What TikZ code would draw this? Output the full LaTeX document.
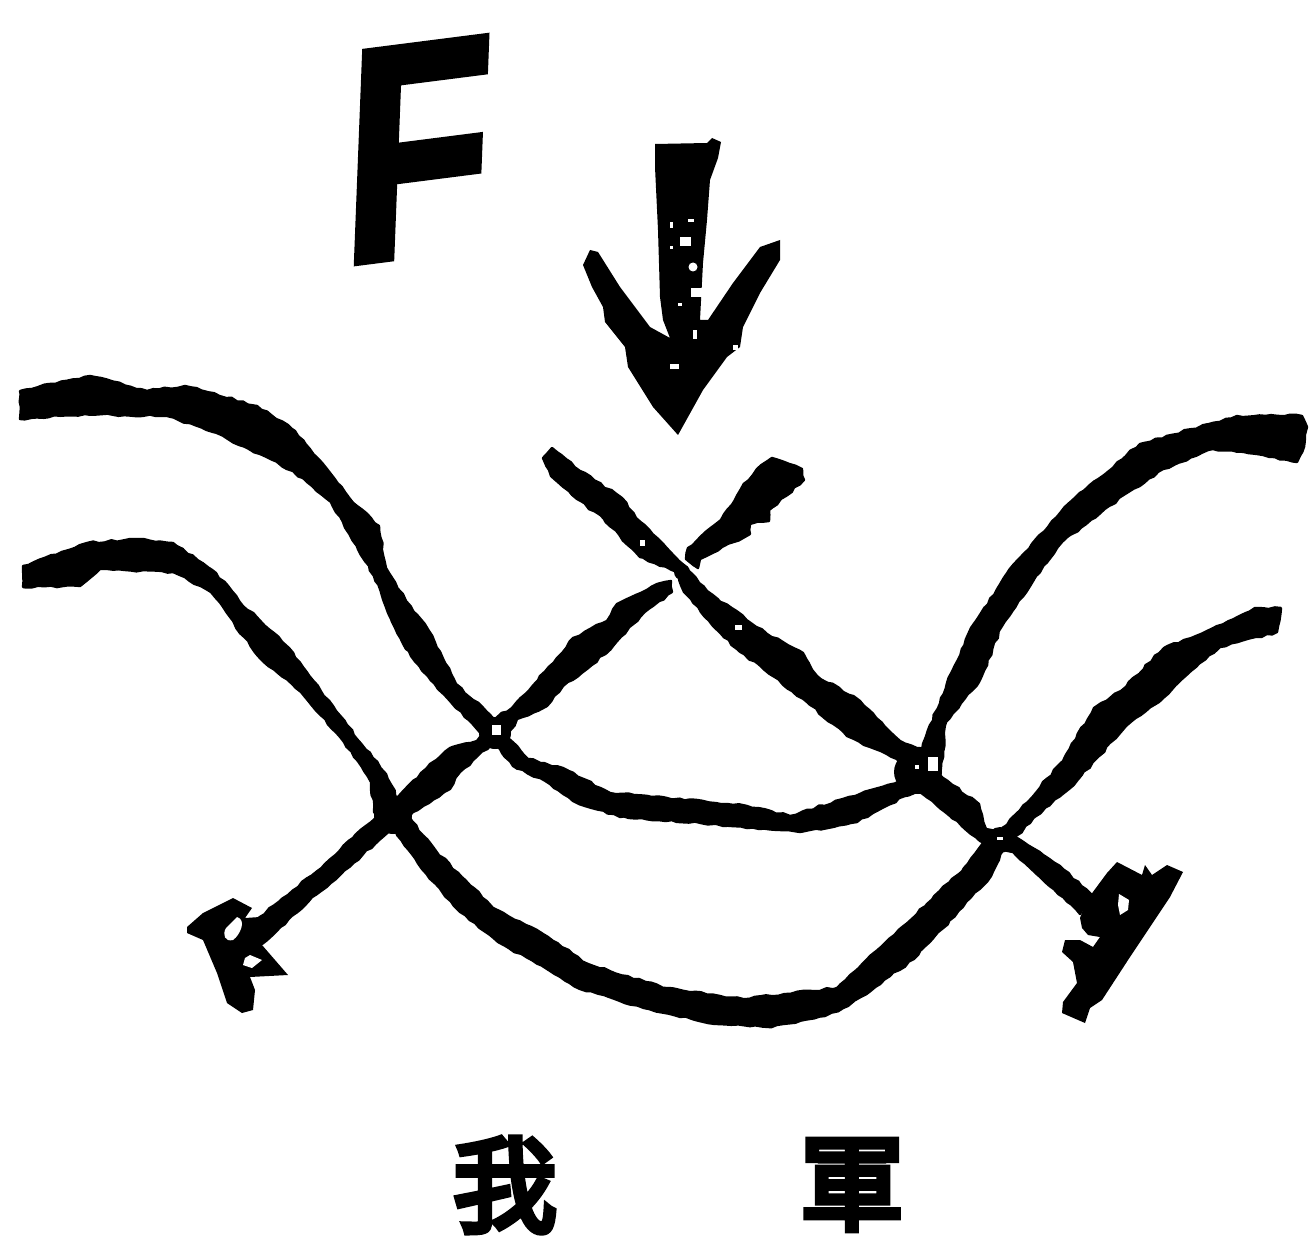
\documentclass[tikz,border=0pt]{standalone}
\usepackage{fontspec}
\setmainfont{Liberation Sans}
\newfontfamily\cjk[FakeBold=6]{Noto Sans CJK TC}
\newfontfamily\heavyF[UprightFont=* Bold,FakeBold=2.5]{Liberation Sans}
\usetikzlibrary{decorations.pathmorphing}
\pgfmathsetseed{7}
\begin{document}
\begin{tikzpicture}[x=1pt,y=-1pt,
  ink/.style={fill=black,draw=none},
  rough/.style={fill=black,draw=black,line width=2.4pt,line join=round,decorate,decoration={random steps,segment length=6pt,amplitude=1.1pt}},
  hole/.style={fill=white,draw=none},
  cjklabel/.style={font=\cjk\fontsize{104}{104}\selectfont,inner sep=0pt,text=black}]
\useasboundingbox (0,0) rectangle (1315,1238);
\fill[white] (0,0) rectangle (1315,1238);
% upper river
\path[rough] (20,391) -- (90,376) -- (147,391) -- (185,386) -- (257,406) -- (295,431) -- (327,469) -- (357,506) -- (379,526) -- (386,568) -- (406,601) -- (429,631) -- (456,684) -- (486,711) -- (508,738) -- (528,759) -- (563,768) -- (610,793) -- (667,798) -- (747,806) -- (790,816) -- (843,799) -- (900,781) -- (925,771) -- (925,789) -- (905,796) -- (857,822) -- (800,832) -- (713,824) -- (620,817) -- (573,801) -- (550,784) -- (513,766) -- (500,749) -- (477,729) -- (438,689) -- (406,649) -- (391,619) -- (374,576) -- (348,532) -- (331,502) -- (293,471) -- (260,454) -- (213,432) -- (167,416) -- (85,414) -- (20,419) -- cycle;
% lower river
\path[rough] (23,566) -- (87,543) -- (137,539) -- (173,543) -- (216,573) -- (239,601) -- (289,648) -- (336,711) -- (386,774) -- (399,801) -- (412,821) -- (436,851) -- (493,908) -- (543,934) -- (588,964) -- (666,988) -- (743,999) -- (837,988) -- (927,904) -- (964,868) -- (990,836) -- (1004,849) -- (991,876) -- (942,929) -- (914,959) -- (848,1006) -- (825,1016) -- (768,1027) -- (715,1024) -- (649,1009) -- (580,989) -- (547,969) -- (498,942) -- (454,906) -- (422,869) -- (396,832) -- (374,812) -- (371,782) -- (344,742) -- (301,692) -- (258,656) -- (211,592) -- (173,572) -- (100,569) -- (80,586) -- (23,587) -- cycle;
% right upper bank
\path[rough] (1307,427) -- (1302,416) -- (1237,416) -- (1140,444) -- (1068,504) -- (1014,564) -- (971,628) -- (941,698) -- (916,765) -- (941,769) -- (946,722) -- (979,682) -- (1002,626) -- (1036,576) -- (1062,542) -- (1109,506) -- (1163,469) -- (1213,449) -- (1257,454) -- (1297,462) -- (1304,447) -- cycle;
% right lower bank
\path[rough] (1281,608) -- (1255,608) -- (1207,631) -- (1164,648) -- (1121,691) -- (1094,708) -- (1063,761) -- (1001,831) -- (1005,849) -- (1036,816) -- (1069,789) -- (1099,756) -- (1126,726) -- (1159,702) -- (1182,679) -- (1220,647) -- (1277,632) -- cycle;
% long diagonal
\path[rough] (552,448) -- (580,471) -- (622,498) -- (636,518) -- (679,561) -- (707,591) -- (767,634) -- (803,653) -- (817,676) -- (860,701) -- (900,741) -- (920,748) -- (943,778) -- (979,804) -- (986,829) -- (1013,836) -- (1060,866) -- (1093,896) -- (1080,914) -- (1025,863) -- (1013,852) -- (980,841) -- (950,816) -- (920,792) -- (897,759) -- (847,736) -- (807,702) -- (737,649) -- (713,626) -- (684,592) -- (677,572) -- (640,557) -- (604,519) -- (577,499) -- (551,476) -- (543,458) -- cycle;
% short upper stroke
\path[rough] (772,458) -- (802,469) -- (804,480) -- (769,510) -- (769,521) -- (750,524) -- (750,534) -- (700,559) -- (698,568) -- (686,559) -- (688,548) -- (721,520) -- (741,489) -- (757,469) -- cycle;
% long anti-diagonal
\path[rough] (671,581) -- (657,584) -- (617,604) -- (607,621) -- (573,638) -- (557,658) -- (512,708) -- (490,721) -- (477,741) -- (450,748) -- (430,764) -- (397,798) -- (353,838) -- (325,864) -- (256,920) -- (262,944) -- (308,902) -- (375,844) -- (413,812) -- (450,789) -- (460,772) -- (490,746) -- (508,736) -- (517,719) -- (547,706) -- (563,686) -- (587,669) -- (613,646) -- (640,617) -- (672,592) -- cycle;
% heavy crossings
\fill[ink] (495,733) circle (16);
\fill[ink] (393,815) circle (19);
\fill[ink] (918,772) ellipse (24 and 22);
\fill[ink] (1000,840) circle (13);
\fill[ink] (682,572) circle (8);
% small openings at the crossings
\fill[hole] (492,725) rectangle (501,735);
\fill[hole] (928,757) rectangle (938,771);
\fill[hole] (915,765) rectangle (919,769);
\fill[hole] (997,837) rectangle (1003,840);
\fill[hole] (735,625) rectangle (742,630);
\fill[hole] (640,540) rectangle (645,546);
% arrow blob left
\fill[ink] (187,927) -- (203,913) -- (233,898) -- (252,908) -- (245,918) -- (260,917) -- (270,925) -- (262,945) -- (288,975) -- (250,977) -- (255,990) -- (253,1010) -- (242,1013) -- (227,1003) -- (217,973) -- (203,940) -- (187,933) -- cycle;
\fill[hole] (237,917) .. controls (247,920) and (240,935) .. (233,940) .. controls (225,942) and (222,935) .. (226,928) -- cycle;
\fill[hole] (250,955) -- (262,960) -- (252,968) -- (243,965) -- (245,958) -- cycle;
% arrow blob right
\fill[ink] (1087,900) -- (1107,873) -- (1117,862) -- (1142,875) -- (1145,865) -- (1152,875) -- (1167,865) -- (1183,872) -- (1170,897) -- (1130,957) -- (1102,1000) -- (1090,1008) -- (1085,1023) -- (1062,1013) -- (1063,1002) -- (1077,983) -- (1073,962) -- (1062,952) -- (1065,940) -- (1080,940) -- (1093,947) -- (1100,937) -- (1088,935) -- (1082,928) -- (1080,918) -- cycle;
\fill[hole] (1119,894) -- (1129,900) -- (1128,910) -- (1120,915) -- (1118,905) -- cycle;
% big arrow
\fill[ink] (655,144) -- (707,143) -- (712,138) -- (721,142) -- (718,158) -- (710,180) -- (707,220) -- (703,263) -- (700,320) -- (708,320) -- (733,283) -- (760,247) -- (780,240) -- (780,260) -- (760,293) -- (743,327) -- (740,347) -- (727,357) -- (703,390) -- (678,435) -- (653,407) -- (628,367) -- (625,347) -- (605,322) -- (603,307) -- (592,287) -- (583,265) -- (590,250) -- (598,252) -- (620,287) -- (650,327) -- (670,338) -- (663,320) -- (660,297) -- (658,230) -- (655,167) -- cycle;
\fill[hole] (680,237) rectangle (691,246);
\fill[hole] (693,267) circle (4.5);
\fill[hole] (691,288) rectangle (703,297);
\fill[hole] (688,219) rectangle (694,222);
\fill[hole] (670,222) rectangle (673,228);
\fill[hole] (670,246) rectangle (673,249);
\fill[hole] (678,303) rectangle (682,306);
\fill[hole] (693,330) rectangle (697,339);
\fill[hole] (670,364) rectangle (679,369);
\fill[hole] (733,345) rectangle (738,350);
% labels
\node[font=\heavyF\fontsize{305}{305}\selectfont,inner sep=0pt,anchor=center,xscale=.78,xslant=.05,yslant=.1] (letterF) at (418,150) {F};
\node[cjklabel] (wo) at (505,1185) {我};
\node[cjklabel] (jun) at (852,1185) {軍};
\end{tikzpicture}
\end{document}
